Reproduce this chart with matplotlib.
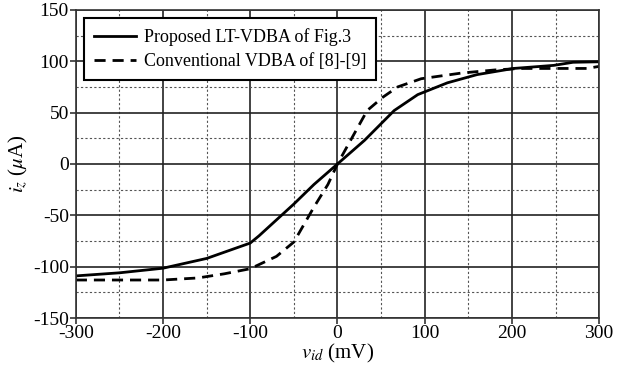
import numpy as np
import matplotlib
matplotlib.use("Agg")
import matplotlib.pyplot as plt
from matplotlib.ticker import MultipleLocator

plt.rcParams['font.family'] = ['Liberation Serif', 'DejaVu Serif']
plt.rcParams['mathtext.fontset'] = 'stix'
plt.rcParams['axes.unicode_minus'] = False

# proposed LT-VDBA
vid_prop = [-300, -250, -200, -150, -110, -100, -90, -50, -27, 0, 31, 65, 92, 126, 160, 202, 248, 270, 300]
iz_prop = [-109, -106, -101.5, -92, -80, -77, -70, -39, -20, 0, 23, 52, 67.5, 79, 87, 93, 96, 99, 99.5]

# conventional VDBA
vid_conv = [-300, -200, -160, -130, -100, -70, -50, -27, -11, 0, 15, 34, 52, 69, 96, 142, 180, 210, 248, 286, 300]
iz_conv = [-113, -113, -111, -107, -102, -90, -76, -42, -20, 0, 23, 52, 65, 75, 83, 88.5, 91.5, 93, 93, 93, 95]

fig = plt.figure(figsize=(6.32, 3.67), dpi=100)
ax = fig.add_axes([0.120, 0.1335, 0.828, 0.8395])

ax.plot(vid_prop, iz_prop, color='k', lw=2.0, label='Proposed LT-VDBA of Fig.3')
ax.plot(vid_conv, iz_conv, color='k', lw=2.0, ls=(0, (4, 2.5)), label='Conventional VDBA of [8]-[9]')

ax.set_xlim(-300, 300)
ax.set_ylim(-150, 150)
ax.xaxis.set_major_locator(MultipleLocator(100))
ax.xaxis.set_minor_locator(MultipleLocator(50))
ax.yaxis.set_major_locator(MultipleLocator(50))
ax.yaxis.set_minor_locator(MultipleLocator(25))

ax.grid(which='major', color='#222222', lw=1.2, ls='-')
ax.grid(which='minor', color='#555555', lw=0.8, ls=(0, (2, 2)))
ax.set_axisbelow(True)
for s in ax.spines.values():
    s.set_color('#333333')
    s.set_linewidth(1.2)

ax.tick_params(which='major', direction='out', length=4, width=1.2, color='#333333',
               labelsize=14, pad=1)
ax.tick_params(which='minor', length=0)

ax.set_xlabel(r'$v_{id}$ (mV)', fontsize=15, labelpad=0)
ax.set_ylabel(r'$i_z$ ($\mu$A)', fontsize=15, labelpad=2)

leg = ax.legend(loc='upper left', bbox_to_anchor=(0.016, 0.973), fontsize=13,
                frameon=True, fancybox=False, edgecolor='k', framealpha=1,
                handlelength=2.3, borderpad=0.55, labelspacing=0.4, handletextpad=0.45,
                borderaxespad=0)
leg.get_frame().set_linewidth(1.5)

fig.savefig('out.png', dpi=100)
